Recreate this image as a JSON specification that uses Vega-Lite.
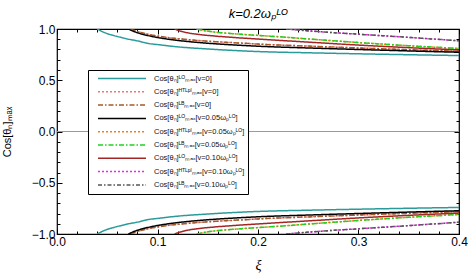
{
  "$schema": "https://vega.github.io/schema/vega-lite/v6.json",
  "width": 402,
  "height": 205,
  "autosize": {"type": "none"},
  "padding": {"left": 57, "top": 29, "right": 10, "bottom": 39},
  "background": "white",
  "title": {"text": "k=0.2ωₚᴸᴼ", "font": "Liberation Sans", "fontSize": 13, "fontStyle": "italic", "fontWeight": "normal", "anchor": "middle", "offset": 2, "color": "black"},
  "datasets": {
    "names": [
      {"k": "A", "series": "Cos[θₙ]ᴸᴼₘₐₓ[v=0]"},
      {"k": "B", "series": "Cos[θₙ]ᴴᵀᴸᵖˡₘₐₓ[v=0]"},
      {"k": "C", "series": "Cos[θₙ]ᴸᴮₘₐₓ[v=0]"},
      {"k": "D", "series": "Cos[θₙ]ᴸᴼₘₐₓ[v=0.05ωₚᴸᴼ]"},
      {"k": "E", "series": "Cos[θₙ]ᴴᵀᴸᵖˡₘₐₓ[v=0.05ωₚᴸᴼ]"},
      {"k": "F", "series": "Cos[θₙ]ᴸᴮₘₐₓ[v=0.05ωₚᴸᴼ]"},
      {"k": "G", "series": "Cos[θₙ]ᴸᴼₘₐₓ[v=0.10ωₚᴸᴼ]"},
      {"k": "H", "series": "Cos[θₙ]ᴴᵀᴸᵖˡₘₐₓ[v=0.10ωₚᴸᴼ]"},
      {"k": "I", "series": "Cos[θₙ]ᴸᴮₘₐₓ[v=0.10ωₚᴸᴼ]"}
    ],
    "curves": [
      {"k": "A", "b": "top", "x": [0.040,0.045,0.050,0.055,0.060,0.070,0.080,0.090,0.100,0.120,0.150,0.200,0.250,0.300,0.350,0.400], "y": [1.000,0.975,0.955,0.940,0.927,0.903,0.884,0.860,0.848,0.826,0.805,0.780,0.768,0.758,0.749,0.741]},
      {"k": "A", "b": "bot", "x": [0.040,0.045,0.050,0.055,0.060,0.070,0.080,0.090,0.100,0.120,0.150,0.200,0.250,0.300,0.350,0.400], "y": [-1.000,-0.975,-0.955,-0.940,-0.927,-0.903,-0.884,-0.860,-0.848,-0.826,-0.805,-0.780,-0.768,-0.758,-0.749,-0.741]},
      {"k": "B", "b": "top", "x": [0.073,0.078,0.085,0.095,0.105,0.120,0.140,0.160,0.180,0.200,0.250,0.300,0.350,0.400], "y": [1.000,0.982,0.962,0.940,0.924,0.906,0.888,0.875,0.864,0.853,0.833,0.815,0.798,0.782]},
      {"k": "B", "b": "bot", "x": [0.073,0.078,0.085,0.095,0.105,0.120,0.140,0.160,0.180,0.200,0.250,0.300,0.350,0.400], "y": [-1.000,-0.982,-0.962,-0.940,-0.924,-0.906,-0.888,-0.875,-0.864,-0.853,-0.833,-0.815,-0.798,-0.782]},
      {"k": "C", "b": "top", "x": [0.073,0.078,0.085,0.095,0.105,0.120,0.140,0.160,0.180,0.200,0.250,0.300,0.350,0.400], "y": [1.000,0.982,0.962,0.940,0.924,0.906,0.888,0.875,0.864,0.853,0.833,0.815,0.798,0.782]},
      {"k": "C", "b": "bot", "x": [0.073,0.078,0.085,0.095,0.105,0.120,0.140,0.160,0.180,0.200,0.250,0.300,0.350,0.400], "y": [-1.000,-0.982,-0.962,-0.940,-0.924,-0.906,-0.888,-0.875,-0.864,-0.853,-0.833,-0.815,-0.798,-0.782]},
      {"k": "D", "b": "top", "x": [0.071,0.075,0.080,0.090,0.100,0.115,0.130,0.150,0.175,0.200,0.250,0.300,0.350,0.400], "y": [1.000,0.982,0.964,0.937,0.917,0.895,0.878,0.861,0.845,0.832,0.815,0.800,0.786,0.773]},
      {"k": "D", "b": "bot", "x": [0.071,0.075,0.080,0.090,0.100,0.115,0.130,0.150,0.175,0.200,0.250,0.300,0.350,0.400], "y": [-1.000,-0.982,-0.964,-0.937,-0.917,-0.895,-0.878,-0.861,-0.845,-0.832,-0.815,-0.800,-0.786,-0.773]},
      {"k": "E", "b": "top", "x": [0.139,0.146,0.155,0.170,0.190,0.220,0.250,0.300,0.350,0.400], "y": [1.000,0.985,0.972,0.958,0.944,0.925,0.903,0.868,0.837,0.810]},
      {"k": "E", "b": "bot", "x": [0.139,0.146,0.155,0.170,0.190,0.220,0.250,0.300,0.350,0.400], "y": [-1.000,-0.985,-0.972,-0.958,-0.944,-0.925,-0.903,-0.868,-0.837,-0.810]},
      {"k": "F", "b": "top", "x": [0.139,0.146,0.155,0.170,0.190,0.220,0.250,0.300,0.350,0.400], "y": [1.000,0.985,0.972,0.958,0.944,0.925,0.903,0.868,0.837,0.810]},
      {"k": "F", "b": "bot", "x": [0.139,0.146,0.155,0.170,0.190,0.220,0.250,0.300,0.350,0.400], "y": [-1.000,-0.985,-0.972,-0.958,-0.944,-0.925,-0.903,-0.868,-0.837,-0.810]},
      {"k": "G", "b": "top", "x": [0.117,0.122,0.130,0.140,0.155,0.175,0.200,0.250,0.300,0.350,0.400], "y": [1.000,0.982,0.963,0.948,0.933,0.918,0.902,0.872,0.843,0.818,0.796]},
      {"k": "G", "b": "bot", "x": [0.117,0.122,0.130,0.140,0.155,0.175,0.200,0.250,0.300,0.350,0.400], "y": [-1.000,-0.982,-0.963,-0.948,-0.933,-0.918,-0.902,-0.872,-0.843,-0.818,-0.796]},
      {"k": "H", "b": "top", "x": [0.228,0.240,0.260,0.290,0.320,0.350,0.400], "y": [1.000,0.990,0.975,0.955,0.937,0.918,0.885]},
      {"k": "H", "b": "bot", "x": [0.228,0.240,0.260,0.290,0.320,0.350,0.400], "y": [-1.000,-0.990,-0.975,-0.955,-0.937,-0.918,-0.885]},
      {"k": "I", "b": "top", "x": [0.228,0.240,0.260,0.290,0.320,0.350,0.400], "y": [1.000,0.990,0.975,0.955,0.937,0.918,0.885]},
      {"k": "I", "b": "bot", "x": [0.228,0.240,0.260,0.290,0.320,0.350,0.400], "y": [-1.000,-0.990,-0.975,-0.955,-0.937,-0.918,-0.885]}
    ]
  },
  "layer": [
    {
      "data": {"values": [{"x0": 0, "x1": 0.4, "y": 0}]},
      "mark": {"type": "rule", "color": "#9a9a9a", "strokeWidth": 1},
      "encoding": {
        "x": {"field": "x0", "type": "quantitative", "scale": {"domain": [0, 0.4], "nice": false, "zero": false},
          "axis": {"orient": "top", "labels": false, "title": null, "values": [0,0.02,0.04,0.06,0.08,0.1,0.12,0.14,0.16,0.18,0.2,0.22,0.24,0.26,0.28,0.3,0.32,0.34,0.36,0.38,0.4],
            "tickSize": {"condition": {"test": "abs(datum.value*10-round(datum.value*10))<1e-6", "value": -5}, "value": -3}}},
        "x2": {"field": "x1"},
        "y": {"field": "y", "type": "quantitative", "scale": {"domain": [-1, 1], "nice": false, "zero": false},
          "axis": {"orient": "right", "labels": false, "title": null, "values": [-1,-0.9,-0.8,-0.7,-0.6,-0.5,-0.4,-0.3,-0.2,-0.1,0,0.1,0.2,0.3,0.4,0.5,0.6,0.7,0.8,0.9,1],
            "tickSize": {"condition": {"test": "abs(datum.value*2-round(datum.value*2))<1e-6", "value": -5}, "value": -3}}}
      }
    },
    {
      "data": {"name": "curves"},
      "transform": [
        {"flatten": ["x", "y"]},
        {"lookup": "k", "from": {"data": {"name": "names"}, "key": "k", "fields": ["series"]}}
      ],
      "mark": {"type": "line", "strokeWidth": 1.5, "interpolate": "monotone", "clip": true},
      "encoding": {
        "x": {"field": "x", "type": "quantitative", "scale": {"domain": [0, 0.4], "nice": false, "zero": false},
          "axis": {"orient": "bottom", "title": "ξ", "titleFont": "Liberation Serif", "titleFontStyle": "italic", "titleFontSize": 14, "titleFontWeight": "normal", "titleY": 24,
            "values": [0,0.02,0.04,0.06,0.08,0.1,0.12,0.14,0.16,0.18,0.2,0.22,0.24,0.26,0.28,0.3,0.32,0.34,0.36,0.38,0.4],
            "labelExpr": "abs(datum.value*10-round(datum.value*10))<1e-6 ? format(datum.value,'.1f') : ''",
            "labelPadding": 7, "labelFlush": false, "labelOverlap": false,
            "tickSize": {"condition": {"test": "abs(datum.value*10-round(datum.value*10))<1e-6", "value": -5}, "value": -3}}},
        "y": {"field": "y", "type": "quantitative", "scale": {"domain": [-1, 1], "nice": false, "zero": false},
          "axis": {"orient": "left", "title": "Cos[θₙ]ₘₐₓ", "titleFont": "Liberation Sans", "titleFontSize": 11, "titleFontWeight": "normal", "titleX": -45,
            "values": [-1,-0.9,-0.8,-0.7,-0.6,-0.5,-0.4,-0.3,-0.2,-0.1,0,0.1,0.2,0.3,0.4,0.5,0.6,0.7,0.8,0.9,1],
            "labelExpr": "abs(datum.value*2-round(datum.value*2))<1e-6 ? format(datum.value,'.1f') : ''",
            "labelPadding": 7, "labelOverlap": false, "labelFlush": false,
            "tickSize": {"condition": {"test": "abs(datum.value*2-round(datum.value*2))<1e-6", "value": -5}, "value": -3}}},
        "color": {"field": "series", "type": "nominal",
          "scale": {"domain": ["Cos[θₙ]ᴸᴼₘₐₓ[v=0]", "Cos[θₙ]ᴴᵀᴸᵖˡₘₐₓ[v=0]", "Cos[θₙ]ᴸᴮₘₐₓ[v=0]", "Cos[θₙ]ᴸᴼₘₐₓ[v=0.05ωₚᴸᴼ]", "Cos[θₙ]ᴴᵀᴸᵖˡₘₐₓ[v=0.05ωₚᴸᴼ]", "Cos[θₙ]ᴸᴮₘₐₓ[v=0.05ωₚᴸᴼ]", "Cos[θₙ]ᴸᴼₘₐₓ[v=0.10ωₚᴸᴼ]", "Cos[θₙ]ᴴᵀᴸᵖˡₘₐₓ[v=0.10ωₚᴸᴼ]", "Cos[θₙ]ᴸᴮₘₐₓ[v=0.10ωₚᴸᴼ]"],
            "range": ["#2a9a9a", "#e8787c", "#a45a28", "#000000", "#f07f1e", "#1fd21f", "#a32525", "#e82ae8", "#555555"]},
          "legend": {"title": null}},
        "strokeDash": {"field": "series", "type": "nominal",
          "scale": {"domain": ["Cos[θₙ]ᴸᴼₘₐₓ[v=0]", "Cos[θₙ]ᴴᵀᴸᵖˡₘₐₓ[v=0]", "Cos[θₙ]ᴸᴮₘₐₓ[v=0]", "Cos[θₙ]ᴸᴼₘₐₓ[v=0.05ωₚᴸᴼ]", "Cos[θₙ]ᴴᵀᴸᵖˡₘₐₓ[v=0.05ωₚᴸᴼ]", "Cos[θₙ]ᴸᴮₘₐₓ[v=0.05ωₚᴸᴼ]", "Cos[θₙ]ᴸᴼₘₐₓ[v=0.10ωₚᴸᴼ]", "Cos[θₙ]ᴴᵀᴸᵖˡₘₐₓ[v=0.10ωₚᴸᴼ]", "Cos[θₙ]ᴸᴮₘₐₓ[v=0.10ωₚᴸᴼ]"],
            "range": [[1, 0], [2, 2], [5, 2, 1.5, 2], [1, 0], [2, 2], [5, 2, 1.5, 2], [1, 0], [2, 2], [4, 2, 1.5, 2]]},
          "legend": {"title": null}},
        "detail": {"field": "b", "type": "nominal"}
      }
    }
  ],
  "resolve": {"axis": {"x": "independent", "y": "independent"}},
  "config": {
    "view": {"stroke": "black", "strokeWidth": 1.2},
    "axis": {"domain": false, "grid": false, "tickColor": "black", "tickWidth": 1, "labelColor": "black", "titleColor": "black", "labelFont": "Liberation Sans", "labelFontSize": 12},
    "legend": {"orient": "none", "legendX": 31, "legendY": 41, "strokeColor": "black", "fillColor": "white", "padding": 3, "symbolType": "stroke", "symbolSize": 2304, "symbolStrokeWidth": 1.5, "clipHeight": 11, "rowPadding": 2.3, "labelFontSize": 7.5, "labelFont": "Liberation Sans", "labelColor": "#111111", "symbolOffset": 6, "labelOffset": 7, "labelLimit": 200}
  }
}
